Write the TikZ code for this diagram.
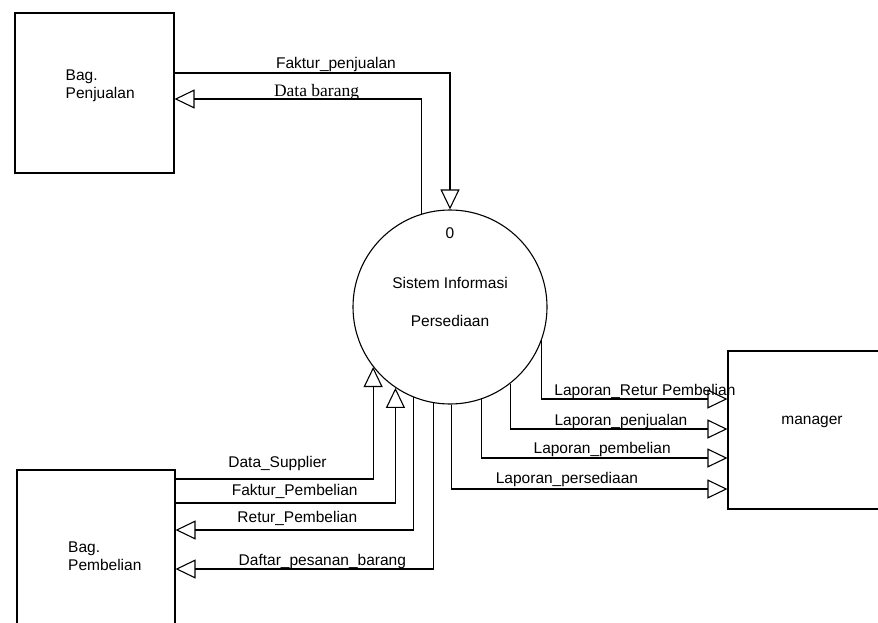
\documentclass[tikz,border=0pt]{standalone}
\usepackage{fontspec}
\setmainfont{Liberation Sans}
\newfontfamily\serifdata{Liberation Serif}
\usepackage{tikz}
\usetikzlibrary{arrows.meta,positioning}

\begin{document}
\begin{tikzpicture}[x=1pt,y=-1pt,
  entity/.style={draw,line width=1.1pt,inner sep=0pt},
  process/.style={draw,circle,line width=1.1pt,minimum size=194pt,inner sep=0pt},
  txt/.style={inner sep=1pt,font=\fontsize{15.5}{18}\selectfont},
  flow/.style={-{Triangle[open,length=20pt,width=19pt]},line width=1.1pt},
  lbl/.style={anchor=base,yshift=4.5pt,inner sep=0pt,font=\fontsize{15.5}{18}\selectfont},
  lblserif/.style={lbl,yshift=-2.5pt,font=\serifdata\fontsize{17.5}{20}\selectfont}
]
\useasboundingbox (0,0) rectangle (878,623);
\clip (0,0) rectangle (878,623);

% external entities and the process
\node[entity,minimum width=159pt,minimum height=160pt] (pjl) at (94.5,93) {};
\node[entity,minimum width=158pt,minimum height=170pt] (pmb) at (96,555) {};
\node[entity,minimum width=168pt,minimum height=158pt] (mgr) at (812,430) {};
\node[process] (sip) at (450,307) {};

\node[txt,align=left,anchor=west] (pjltxt) at ([xshift=-30pt,yshift=7pt]pjl.center) {Bag.\\Penjualan};
\node[txt,align=left,anchor=west] (pmbtxt) at ([xshift=-29pt,yshift=-1pt]pmb.center) {Bag.\\Pembelian};
\node[txt] (mgrtxt) at ([yshift=8pt]mgr.center) {manager};
\node[txt] (sipno) at ([yshift=-24pt]sip.north) {0};
\node[txt] (sipa) at ([yshift=24pt]sip.center) {Sistem Informasi};
\node[txt] (sipb) at ([yshift=-14pt]sip.center) {Persediaan};

% penjualan
\draw[flow] (pjl.east |- 0,73) -| node[lbl,pos=0.293] (fpj) {Faktur\_penjualan} (sip.north);
\draw[flow] (sip.107) |- node[lblserif,pos=0.7125] (dbr) {Data barang} (pjl.east |- 0,99);

% laporan ke manager
\draw[flow] (sip.-20) |- node[lbl,pos=0.778,yshift=-1pt] (lrp) {Laporan\_Retur Pembelian} (mgr.west |- 0,399);
\draw[flow] (sip.-52) |- node[lbl,pos=0.755,yshift=-1pt] (lpj) {Laporan\_penjualan} (mgr.west |- 0,429);
\draw[flow] (sip.-71) |- node[lbl,pos=0.745] (lpb) {Laporan\_pembelian} (mgr.west |- 0,458);
\draw[flow] (sip.-89.5) |- node[lbl,pos=0.709,yshift=1pt] (lps) {Laporan\_persediaan} (mgr.west |- 0,489);

% pembelian
\draw[flow] (pmb.east |- 0,479) -| node[lbl,pos=0.258,yshift=7pt] (dsp) {Data\_Supplier} (sip.-142.5);
\draw[flow] (pmb.east |- 0,503) -| node[lbl,pos=0.271,yshift=3pt] (fpb) {Faktur\_Pembelian} (sip.-124);
\draw[flow] (sip.-112) |- node[lbl,pos=0.744,yshift=3pt] (rpb) {Retur\_Pembelian} (pmb.east |- 0,530);
\draw[flow] (sip.-100) |- node[lbl,pos=0.715,yshift=-1pt] (dpb) {Daftar\_pesanan\_barang} (pmb.east |- 0,569);
\end{tikzpicture}
\end{document}
